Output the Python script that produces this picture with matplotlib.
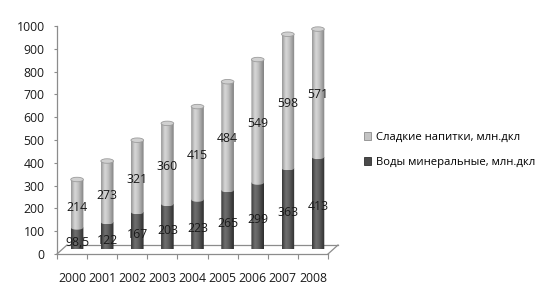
import numpy as np
import matplotlib
matplotlib.use("Agg")
import matplotlib.pyplot as plt
from matplotlib.patches import Ellipse, PathPatch, Patch
from matplotlib.path import Path

plt.rcParams['font.family'] = ['Open Sans', 'DejaVu Sans']

years = ['2000', '2001', '2002', '2003', '2004', '2005', '2006', '2007', '2008']
mineral = [98.5, 122, 167, 203, 223, 265, 299, 363, 413]
sweet = [214, 273, 321, 360, 415, 484, 549, 598, 571]
mineral_labels = ['98,5', '122', '167', '203', '223', '265', '299', '363', '413']
sweet_labels = ['214', '273', '321', '360', '415', '484', '549', '598', '571']
series_names = ['Сладкие напитки, млн.дкл', 'Воды минеральные, млн.дкл']

W, H = 555, 301
fig = plt.figure(figsize=(W / 100, H / 100), dpi=100)

# front plane axes (ticks, floor front)
ax_l, ax_b, ax_w, ax_h = 57, 47, 271, 228
ax = fig.add_axes([ax_l / W, ax_b / H, ax_w / W, ax_h / H])
ax.set_xlim(-0.5, len(years) - 0.5)
ax.set_ylim(0, 1000)
ax.patch.set_alpha(0)
for s in ['top', 'right']:
    ax.spines[s].set_visible(False)
for s in ['left', 'bottom']:
    ax.spines[s].set_color('#8c8c8c')
    ax.spines[s].set_linewidth(0.9)
ax.set_yticks(np.arange(0, 1001, 100))
ax.tick_params(axis='y', direction='out', length=2.5, width=0.8, color='#8c8c8c',
               pad=6.5, labelsize=8.8, labelcolor='#1a1a1a')
ax.set_xticks(np.arange(len(years)))
ax.set_xticklabels(years)
ax.set_xticks(np.arange(len(years) + 1) - 0.5, minor=True)
ax.tick_params(axis='x', which='major', length=0, pad=13, labelsize=8.8, labelcolor='#1a1a1a')
ax.tick_params(axis='x', which='minor', direction='out', length=3.6, width=0.8, color='#8c8c8c')

# floor (depth)
dx_px, dy_px = 10, 9
px_per_x = ax_w / len(years)
px_per_y = ax_h / 1000
ddx = dx_px / px_per_x
ddy = dy_px / px_per_y
x0, x1 = -0.5, len(years) - 0.5
fc = '#8c8c8c'
ax.plot([x0, x0 + ddx], [0, ddy], color=fc, lw=0.9, clip_on=False)
ax.plot([x1, x1 + ddx], [0, ddy], color=fc, lw=0.9, clip_on=False)
ax.plot([x0 + ddx, x1 + ddx], [ddy, ddy], color=fc, lw=0.9, clip_on=False)

# bar axes (mid-depth plane, slightly smaller by perspective)
bx_off, by_off = 5, 4.5
bh = 224
bax = fig.add_axes([(ax_l + bx_off) / W, (ax_b + by_off) / H, ax_w / W, bh / H])
bax.axis('off')

xs = np.arange(len(years))
bw = 0.42
eh = 4.5 / (bh / 1000)  # ellipse height in data units

light_prof = ([0.0, 0.3, 0.55, 1.0], [0x96, 0xd8, 0xc4, 0x80])
dark_prof = ([0.0, 0.3, 0.55, 1.0], [0x36, 0x70, 0x60, 0x2c])


def gradient(prof):
    t = np.linspace(0, 1, 64)
    v = np.interp(t, prof[0], prof[1]) / 255.0
    return np.repeat(v[None, :, None], 3, axis=2)


def shade(rects, prof, cap):
    img = gradient(prof)
    for r in rects:
        x, y0, w, h = r.get_x(), r.get_y(), r.get_width(), r.get_height()
        y1 = y0 + h
        cx = x + w / 2
        th = np.linspace(np.pi, 2 * np.pi, 40)
        verts = [(cx + w / 2 * np.cos(t), y0 + eh / 2 * np.sin(t)) for t in th]
        verts += [(x + w, y1), (x, y1), verts[0]]
        codes = [Path.MOVETO] + [Path.LINETO] * (len(verts) - 2) + [Path.CLOSEPOLY]
        pp = PathPatch(Path(verts, codes), fc='none', ec='none', transform=bax.transData)
        bax.add_patch(pp)
        im = bax.imshow(img, extent=(x, x + w, y0 - eh / 2, y1), aspect='auto',
                        interpolation='bicubic', zorder=r.get_zorder() + 0.1)
        im.set_clip_path(pp)
        r.set_visible(False)
        if cap:
            bax.add_patch(Ellipse((cx, y1), w, eh, fc='#d0d0d0', ec='#9c9c9c', lw=0.6,
                                  zorder=r.get_zorder() + 0.3))


r_min = bax.bar(xs, mineral, width=bw, color='#555555', zorder=2)
shade(r_min, dark_prof, False)
r_sw = bax.bar(xs, sweet, bottom=mineral, width=bw, color='#b5b5b5', zorder=3)
shade(r_sw, light_prof, True)
bax.set_xlim(-0.5, len(years) - 0.5)
bax.set_ylim(0, 1000)

# data labels: x at bar centre, y centred on segment in front-plane scale
for i in range(len(years)):
    bax.annotate(mineral_labels[i], xy=(xs[i], mineral[i] / 2),
                 xycoords=(bax.transData, ax.transData),
                 ha='center', va='center', fontsize=8.8, color='#1a1a1a', zorder=10,
                 annotation_clip=False)
    bax.annotate(sweet_labels[i], xy=(xs[i], mineral[i] + sweet[i] / 2),
                 xycoords=(bax.transData, ax.transData),
                 ha='center', va='center', fontsize=8.8, color='#1a1a1a', zorder=10,
                 annotation_clip=False)

handles = [Patch(fc='#c4c4c4', ec='#8c8c8c', lw=0.6), Patch(fc='#4a4a4a', ec='#2e2e2e', lw=0.6)]
fig.legend(handles, series_names, loc='center left', bbox_to_anchor=(359 / W, 1 - 150 / H),
           frameon=False, fontsize=8.1, handlelength=0.65, handleheight=0.65,
           handletextpad=0.45, labelspacing=1.25, borderaxespad=0)

fig.savefig('out.png', dpi=100)
